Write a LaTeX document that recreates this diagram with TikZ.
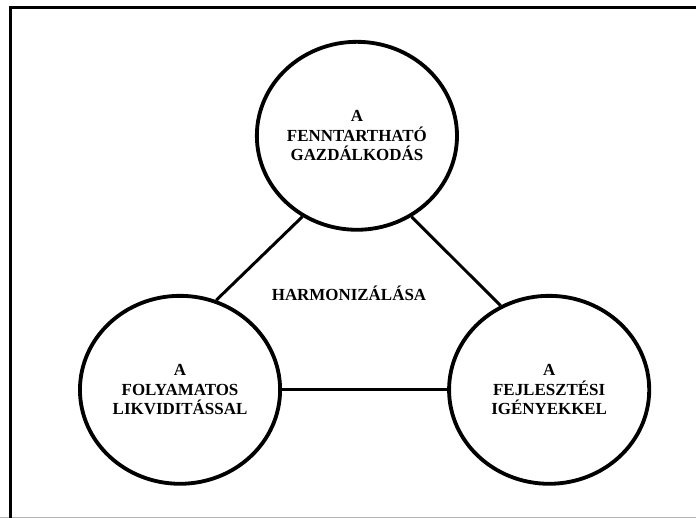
\documentclass[tikz,border=0pt]{standalone}
\usepackage{fontspec}
\setmainfont{Liberation Serif}
\usetikzlibrary{shapes.geometric}

\begin{document}
\begin{tikzpicture}[
  kor/.style={ellipse, draw, line width=1.35mm, minimum width=7.06cm, minimum height=6.63cm, inner sep=0pt, align=center, font=\bfseries\fontsize{17}{19.5}\selectfont},
  felirat/.style={align=center, font=\bfseries\fontsize{17}{19.5}\selectfont}]
  \useasboundingbox (0,0) rectangle (24.55,18.27);

  % keret
  \draw[line width=0.3mm, gray!60] (0,0.02) -- (24.55,0.02);
  \draw[line width=1.1mm] (0.37,0) -- (0.37,17.99) -- (24.55,17.99);

  \node[kor] (n0) at (12.59,13.48) {A\\FENNTARTHATÓ\\GAZDÁLKODÁS};
  \node[kor] (n1) at (6.35,4.52) {A\\FOLYAMATOS\\LIKVIDITÁSSAL};
  \node[kor] (n2) at (19.37,4.52) {A\\FEJLESZTÉSI\\IGÉNYEKKEL};

  \node[felirat] (n3) at (12.31,7.94) {HARMONIZÁLÁSA};

  \path[] (n0.236) [-, line width=1.05mm] edge node [] {} (n1.68);
  \path[] (n0.304) [-, line width=1.05mm] edge node [] {} (n2.120);
  \path[] (n1.east) [-, line width=1.05mm] edge node [] {} (n2.west);
\end{tikzpicture}
\end{document}
